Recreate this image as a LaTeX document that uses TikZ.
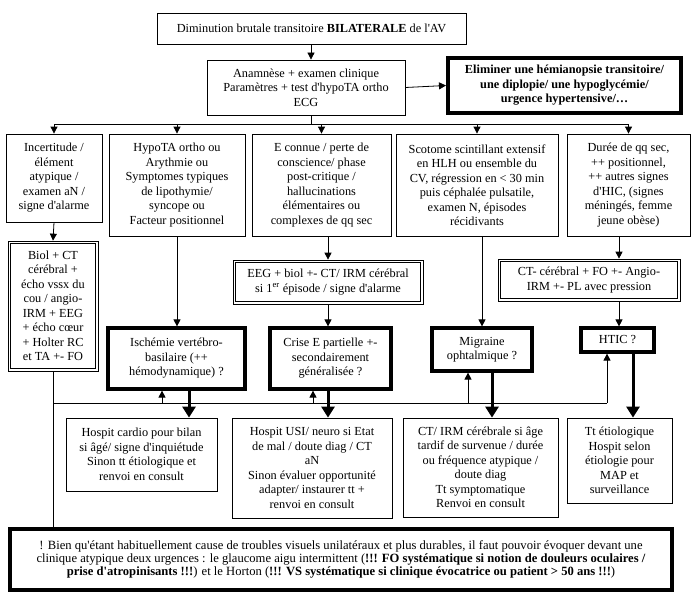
\documentclass[tikz,border=0pt]{standalone}
\usepackage{fontspec}
\setmainfont{Liberation Serif}
\usetikzlibrary{arrows.meta}
\newcommand\ap{\textquotesingle}
\newcommand\mybox[7]{%
  \pgfmathsetmacro\myCx{(#2+#4)/2}\pgfmathsetmacro\myCy{(#3+#5)/2}%
  \pgfmathsetmacro\myW{#4-#2}\pgfmathsetmacro\myH{#5-#3}%
  \node[#6, minimum width=\myW pt, minimum height=\myH pt] (#1) at (\myCx,\myCy) {#7};}
\begin{document}
\begin{tikzpicture}[x=1pt,y=-1pt,
  base/.style={draw=black, align=center, inner sep=2pt, font=\fontsize{12.3}{14.5}\selectfont},
  plain/.style={base, line width=0.8pt},
  dbl/.style={base, line width=0.7pt},
  heavy/.style={base, line width=3.2pt},
  arr/.style={line width=0.8pt, -{Triangle[width=7pt,length=7pt]}},
  tarr/.style={line width=3pt, -{Triangle[width=13pt,length=11pt]}},
  ln/.style={line width=0.8pt}]
\useasboundingbox (0,0) rectangle (692,599);
\fill[white] (0,0) rectangle (692,599);

\mybox{top}{157}{13}{466}{44}{plain}{Diminution brutale transitoire \textbf{BILATERALE} de l\ap AV}
\mybox{b2}{207}{60}{405}{115}{plain}{Anamnèse + examen clinique\\Paramètres + test d\ap hypoTA ortho\\ECG}
\mybox{elim}{448}{58}{681}{113}{base, line width=4pt}{\textbf{Eliminer une hémianopsie transitoire/}\\\textbf{une diplopie/ une hypoglycémie/}\\\textbf{urgence hypertensive/…}}

\mybox{c1}{6}{134}{102}{222}{plain}{Incertitude /\\élément\\atypique /\\examen aN /\\signe d\ap alarme}
\mybox{c2}{109}{134}{245}{236}{plain}{HypoTA ortho ou\\Arythmie ou\\Symptomes typiques\\de lipothymie/\\syncope ou\\Facteur positionnel}
\mybox{c3}{252}{134}{391}{236}{plain}{E connue / perte de\\conscience/ phase\\post-critique /\\hallucinations\\élémentaires ou\\complexes de qq sec}
\mybox{c4}{396}{134}{558}{236}{plain}{Scotome scintillant extensif\\en HLH ou ensemble du\\CV, régression en < 30 min\\puis céphalée pulsatile,\\examen N, épisodes\\récidivants}
\mybox{c5}{567}{134}{690}{236}{plain}{Durée de qq sec,\\++ positionnel,\\++ autres signes\\d\ap HIC, (signes\\méningés, femme\\jeune obèse)}

\mybox{biol}{8}{241}{98}{371}{dbl}{Biol + CT\\cérébral +\\écho vssx du\\cou / angio-\\IRM + EEG\\+ écho cœur\\+ Holter RC\\et TA +- FO}
\mybox{eeg}{233}{260}{423}{304}{dbl}{EEG + biol +- CT/ IRM cérébral\\si 1\textsuperscript{er} épisode / signe d\ap alarme}
\mybox{ctb}{498}{259}{680}{301}{dbl}{CT- cérébral + FO +- Angio-\\IRM +- PL avec pression}
\foreach \n in {biol,eeg,ctb}
  \draw[line width=0.7pt] ([shift={(2.6,2.6)}]\n.north west) rectangle ([shift={(-2.6,-2.6)}]\n.south east);

\mybox{isch}{108}{328}{245}{389}{heavy}{Ischémie vertébro-\\basilaire (++\\hémodynamique) ?}
\mybox{crise}{270}{328}{391}{389}{heavy}{Crise E partielle +-\\secondairement\\généralisée ?}
\mybox{migr}{432}{328}{532}{371}{heavy}{Migraine\\ophtalmique ?}
\mybox{htic}{581}{328}{654}{352}{heavy}{HTIC ?}

\mybox{hc}{66}{418}{217}{491}{plain}{Hospit cardio pour bilan\\si âgé/ signe d\ap inquiétude\\Sinon tt étiologique et\\renvoi en consult}
\mybox{husi}{232}{418}{392}{518}{plain}{Hospit USI/ neuro si Etat\\de mal / doute diag / CT\\aN\\Sinon évaluer opportunité\\adapter/ instaurer tt +\\renvoi en consult}
\mybox{ctirm}{403}{418}{558}{517}{plain}{CT/ IRM cérébrale si âge\\tardif de survenue / durée\\ou fréquence atypique /\\doute diag\\Tt symptomatique\\Renvoi en consult}
\mybox{tt}{567}{418}{672}{503}{plain}{Tt étiologique\\Hospit selon\\étiologie pour\\MAP et\\surveillance}

\mybox{note}{10}{529}{672}{590}{base, line width=4pt, font=\fontsize{12.6}{12.8}\selectfont}{! Bien qu\ap étant habituellement cause de troubles visuels unilatéraux et plus durables, il faut pouvoir évoquer devant une\\clinique atypique deux urgences : le glaucome aigu intermittent (\textbf{!!! FO systématique si notion de douleurs oculaires /}\\\textbf{prise d\ap atropinisants !!!}) et le Horton (\textbf{!!! VS systématique si clinique évocatrice ou patient > 50 ans !!!})}

% top connectors
\draw[arr] (top.south -| 311,0) -- (311,0 |- b2.north);
\draw[arr] (b2.east) -- (elim.west);
\coordinate (bus) at (311,124);
\draw[ln] (b2.south -| bus) -- (bus);
\draw[ln] (c1.north |- bus) -- (c5.north |- bus);
\foreach \c in {c1,c2,c3,c4,c5} \draw[arr] (\c.north |- bus) -- (\c.north);

% column connectors
\draw[arr] (c1.south) -- (biol.north);
\draw[arr] (c2.south) -- (c2.south |- isch.north);
\draw[arr] (eeg.north |- c3.south) -- (eeg.north);
\draw[arr] (eeg.south) -- (eeg.south |- crise.north);
\draw[arr] (c4.south -| migr.north) -- (migr.north);
\coordinate (hx) at (619,0);
\draw[arr] (c5.south -| hx) -- (ctb.north -| hx);
\draw[arr] (ctb.south -| hx) -- (htic.north -| hx);

% lower bus
\coordinate (lb) at (53,403);
\draw[ln] (biol.south -| lb) -- (note.north -| lb);
\draw[ln] (lb) -- (607,403);
\coordinate (u1) at (162,403);
\coordinate (u2) at (313,403);
\coordinate (u3) at (468,403);
\coordinate (u4) at (607,403);
\draw[arr] (u1) -- (u1 |- isch.south);
\draw[arr] (u2) -- (u2 |- crise.south);
\draw[arr] (u3) -- (u3 |- migr.south);
\draw[arr] (u4) -- (u4 |- htic.south);
\coordinate (d1) at (189,0);
\coordinate (d2) at (328,0);
\coordinate (d3) at (492,0);
\coordinate (d4) at (633,0);
\draw[tarr] (isch.south -| d1) -- (hc.north -| d1);
\draw[tarr] (crise.south -| d2) -- (husi.north -| d2);
\draw[tarr] (migr.south -| d3) -- (ctirm.north -| d3);
\draw[tarr] (htic.south -| d4) -- (tt.north -| d4);
\end{tikzpicture}
\end{document}
